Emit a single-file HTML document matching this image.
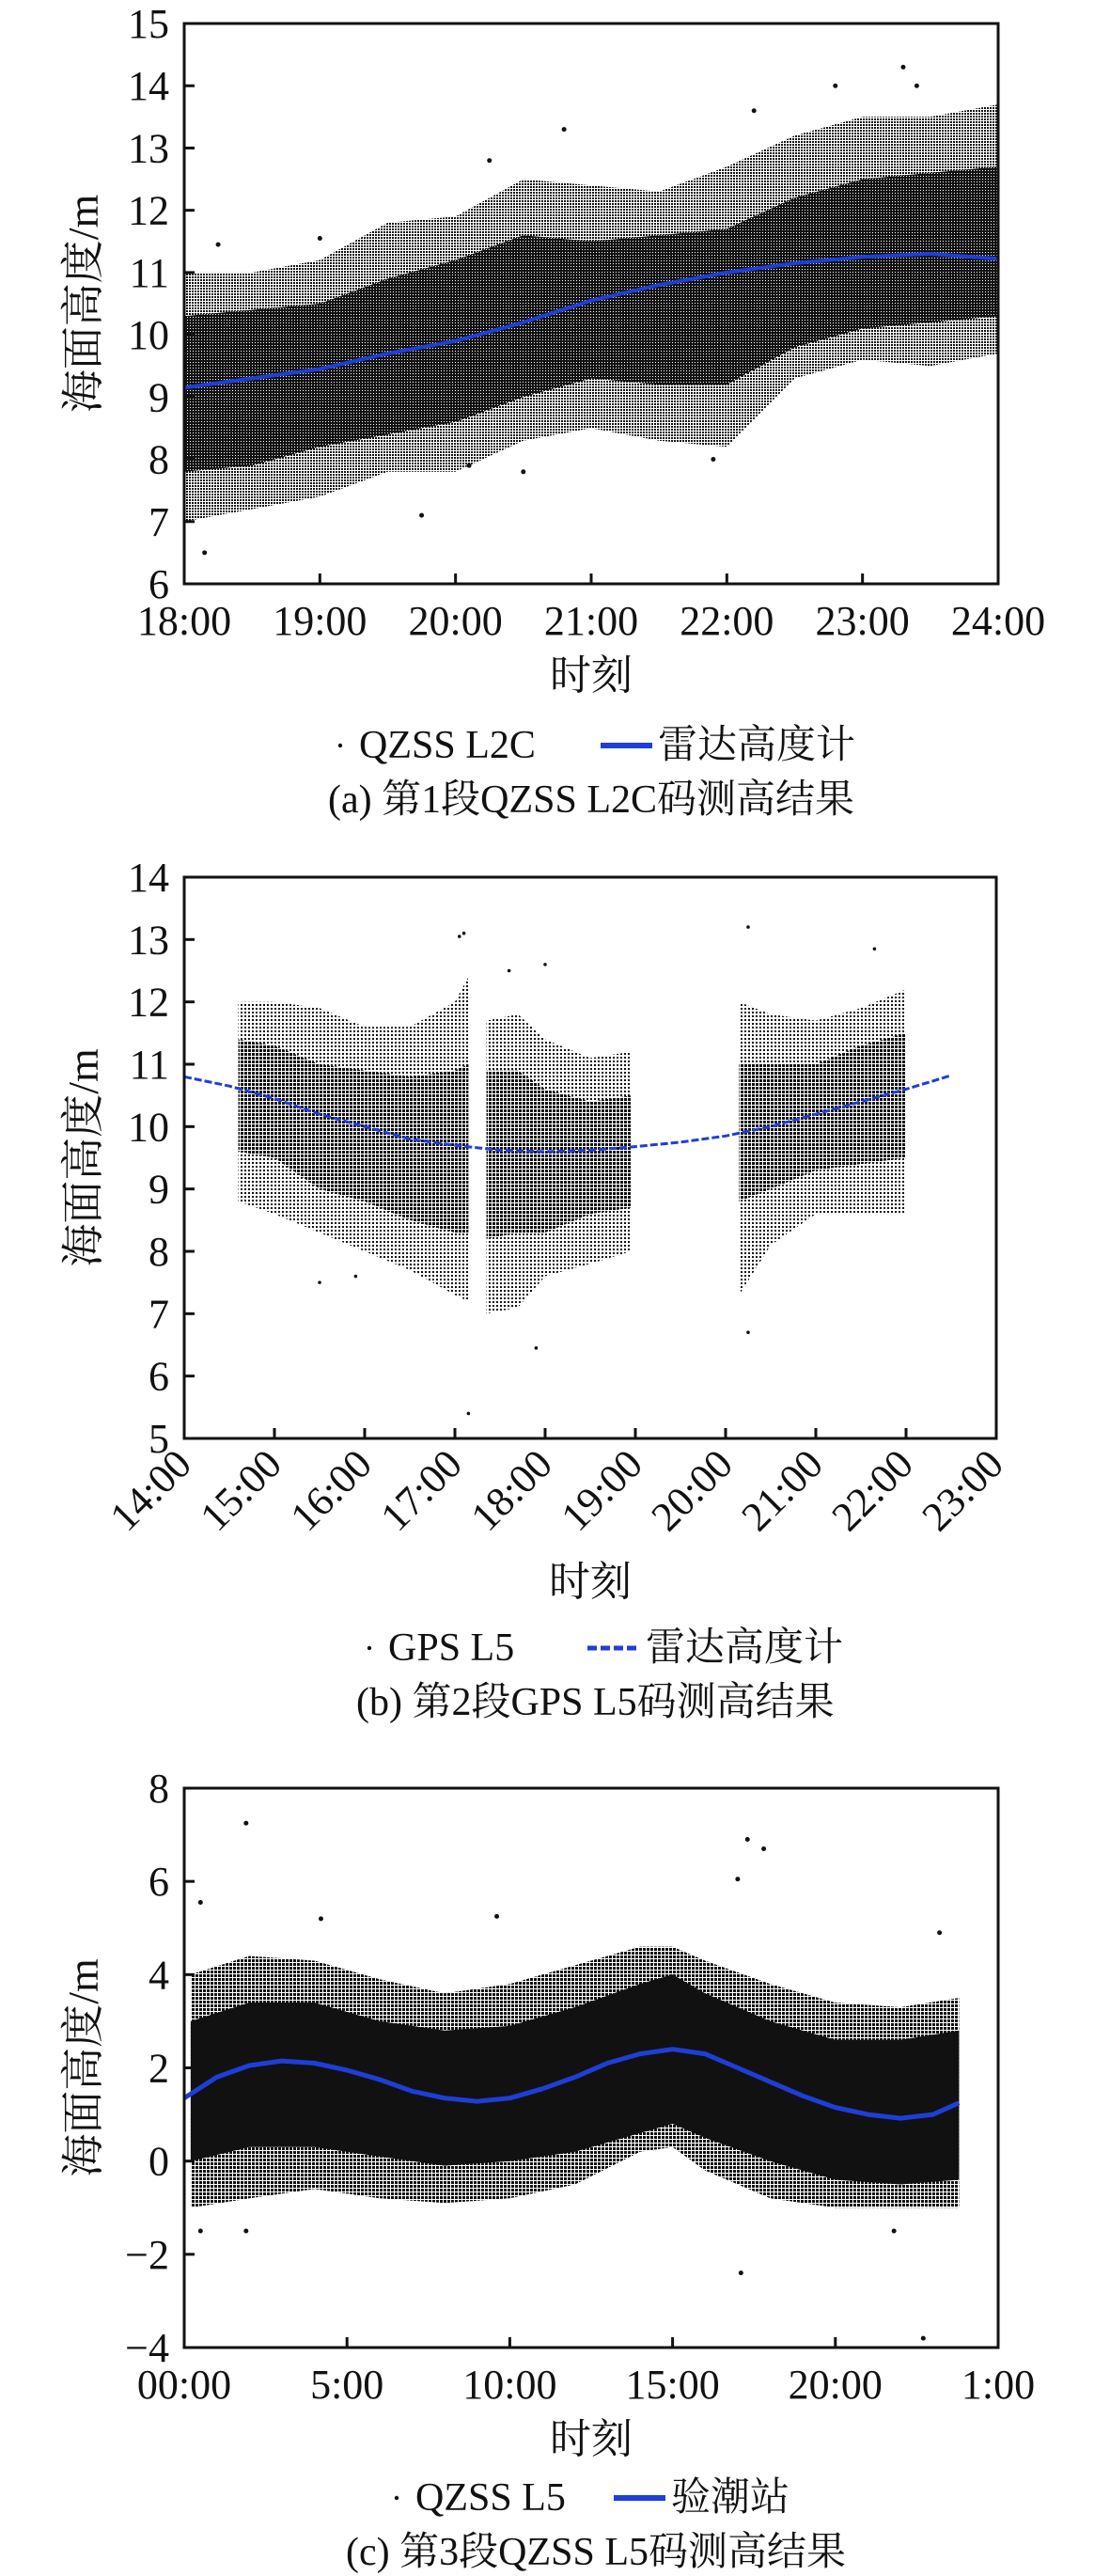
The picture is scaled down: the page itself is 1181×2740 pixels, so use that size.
<!DOCTYPE html>
<html><head><meta charset="utf-8">
<style>
html,body{margin:0;padding:0;background:#fff;}
svg{display:block;}
text{font-family:"Liberation Serif","Noto Serif CJK SC","Noto Sans CJK SC",serif;fill:#111;}
</style></head>
<body>
<svg id="fig" width="1181" height="2740" viewBox="0 0 1181 2740" xmlns="http://www.w3.org/2000/svg">
<defs>
<pattern id="pDark" width="3" height="3" patternUnits="userSpaceOnUse"><rect width="3" height="3" fill="#111"/><rect x="1" y="1" width="1" height="1" fill="#fff"/></pattern>
<pattern id="pDense" width="4" height="4" patternUnits="userSpaceOnUse"><rect width="4" height="4" fill="#fff"/><rect width="3" height="3" fill="#111"/></pattern>
<pattern id="pMid" width="3" height="3" patternUnits="userSpaceOnUse"><rect width="3" height="3" fill="#fff"/><rect width="2" height="2" fill="#111"/></pattern>
<pattern id="pLight" width="4" height="4" patternUnits="userSpaceOnUse"><rect width="4" height="4" fill="#fff"/><rect width="2" height="2" fill="#111"/></pattern>
</defs>
</svg>
<script>
// ---------- Chart (a) data ----------
const aLineT = [18,18.5,19,19.5,20,20.5,21,21.5,22,22.5,23,23.5,24];
const aLineV = [9.15,9.3,9.45,9.7,9.9,10.2,10.55,10.8,11.0,11.15,11.25,11.3,11.22];
const aBandT = [18,18.5,19,19.5,20,20.5,21,21.5,22,22.5,23,23.5,24];
const aCoreLow = [7.8,7.9,8.2,8.4,8.6,9.0,9.3,9.2,9.2,9.8,10.1,10.2,10.3];
const aCoreHigh = [10.3,10.4,10.5,10.9,11.2,11.6,11.5,11.6,11.7,12.2,12.5,12.6,12.7];
const aOuterLow = [7.0,7.2,7.4,7.8,7.8,8.3,8.5,8.3,8.2,9.3,9.6,9.5,9.7];
const aOuterHigh = [11.0,11.0,11.2,11.8,11.9,12.5,12.4,12.3,12.7,13.2,13.5,13.5,13.7];
const aOutT = [18.15,19.75,23.3,23.4,22.8,22.2,20.8,20.25,18.25,19.0,21.9,20.1,20.5];
const aOutV = [6.5,7.1,14.3,14.0,14.0,13.6,13.3,12.8,11.45,11.55,8.0,7.9,7.8];
const aYTicks = [6,7,8,9,10,11,12,13,14,15];
const aXTicks = [18,19,20,21,22,23,24];
const aXLabels = ["18:00","19:00","20:00","21:00","22:00","23:00","24:00"];

// ---------- Chart (b) data ----------
const bLineT = [14,14.5,15,15.5,16,16.5,17,17.5,18,18.5,19,19.5,20,20.5,21,21.5,22,22.5];
const bLineV = [10.8,10.65,10.45,10.2,10.0,9.8,9.7,9.62,9.6,9.62,9.68,9.75,9.85,10.0,10.2,10.4,10.6,10.82];
const bSeg1T = [14.6,15.0,15.5,16.0,16.5,17.0,17.15];
const bSeg1CoreLow = [9.6,9.5,9.0,8.8,8.5,8.3,8.3];
const bSeg1CoreHigh = [11.4,11.3,11.0,10.9,10.8,10.9,11.0];
const bSeg1OuterLow = [8.8,8.6,8.3,8.0,7.7,7.3,7.2];
const bSeg1OuterHigh = [12.0,12.0,11.9,11.6,11.6,12.0,12.4];
const bSeg2T = [17.35,17.7,18.0,18.5,18.95];
const bSeg2CoreLow = [8.2,8.3,8.3,8.6,8.7];
const bSeg2CoreHigh = [10.9,10.9,10.6,10.4,10.5];
const bSeg2OuterLow = [7.0,7.1,7.6,7.8,8.0];
const bSeg2OuterHigh = [11.7,11.8,11.4,11.1,11.2];
const bSeg3T = [20.15,20.5,21.0,21.5,22.0];
const bSeg3CoreLow = [8.8,9.0,9.3,9.4,9.5];
const bSeg3CoreHigh = [11.0,11.0,11.0,11.3,11.5];
const bSeg3OuterLow = [7.3,8.1,8.6,8.6,8.6];
const bSeg3OuterHigh = [12.0,11.8,11.7,11.9,12.2];
const bOutT = [17.1,17.05,20.25,21.65,17.15,17.9,20.25,17.6,18.0,15.9,15.5];
const bOutV = [13.1,13.05,13.2,12.85,5.4,6.45,6.7,12.5,12.6,7.6,7.5];
const bYTicks = [5,6,7,8,9,10,11,12,13,14];
const bXTicks = [14,15,16,17,18,19,20,21,22,23];
const bXLabels = ["14:00","15:00","16:00","17:00","18:00","19:00","20:00","21:00","22:00","23:00"];

// ---------- Chart (c) data ----------
const cLineT = [0,1,2,3,4,5,6,7,8,9,10,11,12,13,14,15,16,17,18,19,20,21,22,23,23.8];
const cLineV = [1.35,1.8,2.05,2.15,2.1,1.95,1.75,1.5,1.35,1.28,1.35,1.55,1.8,2.1,2.3,2.4,2.3,2.0,1.7,1.4,1.15,1.0,0.92,1.0,1.25];
const cBandT = [0.2,2,4,6,8,10,12,14,15,16,18,20,22,23.8];
const cCoreLow = [0.0,0.3,0.3,0.1,-0.1,0.0,0.2,0.6,0.8,0.5,0.0,-0.4,-0.5,-0.4];
const cCoreHigh = [3.0,3.4,3.4,3.0,2.8,2.9,3.3,3.8,4.0,3.6,3.0,2.6,2.6,2.8];
const cOuterLow = [-1.0,-0.8,-0.6,-0.8,-0.9,-0.8,-0.5,0.2,0.3,-0.2,-0.8,-1.0,-1.0,-1.0];
const cOuterHigh = [4.0,4.4,4.3,3.9,3.6,3.8,4.2,4.6,4.6,4.3,3.8,3.4,3.3,3.5];
const cOutT = [1.9,0.5,17.3,17.8,17.0,23.2,9.6,4.2,17.1,22.7,21.8,1.9,0.5];
const cOutV = [7.25,5.55,6.9,6.7,6.05,4.9,5.25,5.2,-2.4,-3.8,-1.5,-1.5,-1.5];
const cYTicks = [-4,-2,0,2,4,6,8];
const cYLabels = ["\u22124","\u22122","0","2","4","6","8"];
const cXTicks = [0,5,10,15,20,25];
const cXLabels = ["00:00","5:00","10:00","15:00","20:00","1:00"];

const NS = "http://www.w3.org/2000/svg";
const svg = document.getElementById('fig');
function mk(tag, attrs, parent){
  const e = document.createElementNS(NS, tag);
  for (const k in attrs) e.setAttribute(k, attrs[k]);
  (parent||svg).appendChild(e);
  return e;
}
function scaleX(c, t){ return c.L + (t - c.x0) / (c.x1 - c.x0) * (c.R - c.L); }
function scaleY(c, v){ return c.B - (v - c.y0) / (c.y1 - c.y0) * (c.B - c.T); }
function band(c, g, ts, lo, hi, fill, name){
  let pts = [];
  for (let i=0;i<ts.length;i++) pts.push(scaleX(c,ts[i]).toFixed(1)+','+scaleY(c,hi[i]).toFixed(1));
  for (let i=ts.length-1;i>=0;i--) pts.push(scaleX(c,ts[i]).toFixed(1)+','+scaleY(c,lo[i]).toFixed(1));
  const p = mk('polygon', {points: pts.join(' '), fill: fill}, g);
  
  
}
function outliers(c, g, ts, vs, r){
  for (let i=0;i<ts.length;i++){
    const d = mk('circle', {cx: scaleX(c,ts[i]), cy: scaleY(c,vs[i]), r: r, fill:'#111'}, g);
    
    
  }
}
function line(c, g, ts, vs, w, dash, name){
  const d = ts.map((t,i)=>(i?'L':'M')+scaleX(c,t).toFixed(1)+','+scaleY(c,vs[i]).toFixed(1)).join(' ');
  const attrs = {d: d, fill:'none', stroke:'#1f3ed8', 'stroke-width': w, 'stroke-linejoin':'round'};
  if (dash) attrs['stroke-dasharray'] = dash;
  const p = mk('path', attrs, g);
  
  
}
function txt(g, x, y, s, size, anchor, extra){
  const t = mk('text', Object.assign({x:x, y:y, 'font-size':size, 'text-anchor':anchor||'start'}, extra||{}), g);
  t.textContent = s;
  return t;
}
function axes(c, g, yTicks, yLabels, xTicks, xLabels, rotated){
  const fr = mk('rect', {x:c.L, y:c.T, width:c.R-c.L, height:c.B-c.T, fill:'none', stroke:'#111', 'stroke-width':3}, g);
  
  
  yTicks.forEach((v,i)=>{
    const y = scaleY(c,v);
    mk('line', {x1:c.L, x2:c.L+11, y1:y, y2:y, stroke:'#111', 'stroke-width':3}, g);
    const t = txt(g, c.L-16, y+15, yLabels[i], 44, 'end');
    
    
  });
  xTicks.forEach((v,i)=>{
    const x = scaleX(c,v);
    mk('line', {x1:x, x2:x, y1:c.B, y2:c.B-11, stroke:'#111', 'stroke-width':3}, g);
    let t;
    if (rotated) {
      t = txt(g, 0, 0, xLabels[i], 44, 'end', {transform:'translate('+(x+10)+','+(c.B+30)+') rotate(-45)'});
    } else {
      t = txt(g, x, c.B+54, xLabels[i], 44, 'middle');
    }
    
    
  });
  const yt = txt(g, 0, 0, '海面高度/m', 46, 'middle', {transform:'translate('+(c.L-92)+','+((c.T+c.B)/2)+') rotate(-90)'});
  
  
  const xt = txt(g, (c.L+c.R)/2, c.xTitleY, '时刻', 44, 'middle');
  
  
}
function legend(g, y, dotX, label1, lineX1, lineX2, label2, dashed, capX, caption){
  const lg = mk('g', {}, g);
  
  
  mk('circle', {cx:dotX, cy:y-13, r:2.2, fill:'#111'}, lg);
  const t1 = txt(lg, dotX+20, y, label1, 42, 'start');
  
  
  const la = {x1:lineX1, x2:lineX2, y1:y-13, y2:y-13, stroke:'#1f3ed8', 'stroke-width':6};
  if (dashed) { la['stroke-dasharray'] = '10,4'; la['stroke-width'] = 5; }
  mk('line', la, lg);
  const t2 = txt(lg, lineX2+6, y, label2, 42, 'start');
  
  
  const cp = txt(g, capX, y+58, caption, 42, 'start');
  
  
}

// ----- Chart a -----
const ca = {L:196, R:1062, T:25, B:621, x0:18, x1:24, y0:6, y1:15, xTitleY:733};
const ga = mk('g', {});  
band(ca, ga, aBandT, aOuterLow, aOuterHigh, 'url(#pMid)', 'scatter-outer-band');
band(ca, ga, aBandT, aCoreLow, aCoreHigh, 'url(#pDark)', 'scatter-core-band');
outliers(ca, ga, aOutT, aOutV, 2.5);
line(ca, ga, aLineT, aLineV, 4, null, 'radar-altimeter-line');
axes(ca, ga, aYTicks, aYTicks.map(String), aXTicks, aXLabels, false);
legend(ga, 806, 362, 'QZSS L2C', 639, 694, '雷达高度计', false, 349, '(a) 第1段QZSS L2C码测高结果');

// ----- Chart b -----
const cb = {L:196, R:1060, T:933, B:1530, x0:14, x1:23, y0:5, y1:14, xTitleY:1697};
const gb = mk('g', {});  
band(cb, gb, bSeg1T, bSeg1OuterLow, bSeg1OuterHigh, 'url(#pLight)', 'scatter-outer-band');
band(cb, gb, bSeg1T, bSeg1CoreLow, bSeg1CoreHigh, 'url(#pDense)', 'scatter-core-band');
band(cb, gb, bSeg2T, bSeg2OuterLow, bSeg2OuterHigh, 'url(#pLight)', 'scatter-outer-band');
band(cb, gb, bSeg2T, bSeg2CoreLow, bSeg2CoreHigh, 'url(#pDense)', 'scatter-core-band');
band(cb, gb, bSeg3T, bSeg3OuterLow, bSeg3OuterHigh, 'url(#pLight)', 'scatter-outer-band');
band(cb, gb, bSeg3T, bSeg3CoreLow, bSeg3CoreHigh, 'url(#pDense)', 'scatter-core-band');
outliers(cb, gb, bOutT, bOutV, 1.8);
line(cb, gb, bLineT, bLineV, 3, '8,3', 'radar-altimeter-line');
axes(cb, gb, bYTicks, bYTicks.map(String), bXTicks, bXLabels, true);
legend(gb, 1766, 393, 'GPS L5', 625, 681, '雷达高度计', true, 379, '(b) 第2段GPS L5码测高结果');

// ----- Chart c -----
const cc = {L:196, R:1062, T:1902, B:2497, x0:0, x1:25, y0:-4, y1:8, xTitleY:2609};
const gc = mk('g', {});  
band(cc, gc, cBandT, cOuterLow, cOuterHigh, 'url(#pDense)', 'scatter-outer-band');
band(cc, gc, cBandT, cCoreLow, cCoreHigh, '#111', 'scatter-core-band');
outliers(cc, gc, cOutT, cOutV, 2.5);
line(cc, gc, cLineT, cLineV, 5, null, 'tide-gauge-line');
axes(cc, gc, cYTicks, cYLabels, cXTicks, cXLabels, false);
legend(gc, 2670, 422, 'QZSS L5', 653, 708, '验潮站', false, 368, '(c) 第3段QZSS L5码测高结果');
</script>
</body></html>
